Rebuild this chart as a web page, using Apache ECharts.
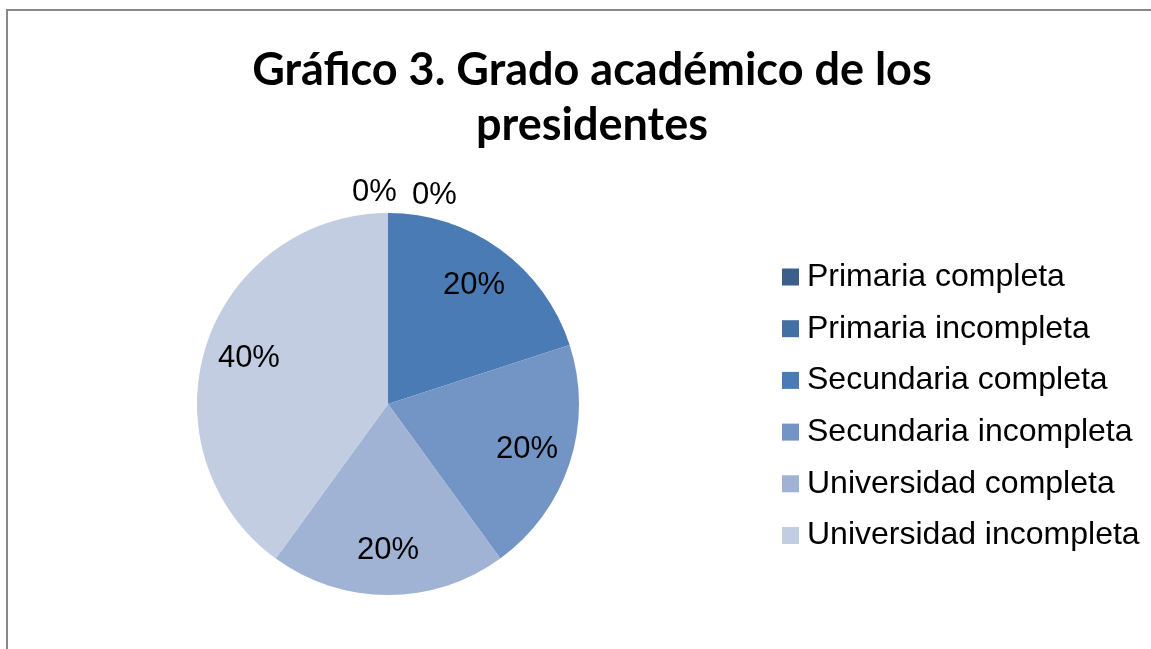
<!DOCTYPE html>
<html>
<head>
<meta charset="utf-8">
<script src="https://cdn.jsdelivr.net/npm/echarts@6/dist/echarts.min.js"></script>
<style>
  html, body { margin: 0; padding: 0; background: #fff; }
  #chart { width: 1151px; height: 649px; }
</style>
</head>
<body>
<div id="chart"></div>
<script>
// datos del gráfico
const categories = ['Primaria completa', 'Primaria incompleta', 'Secundaria completa', 'Secundaria incompleta', 'Universidad completa', 'Universidad incompleta']
const values = [0, 0, 1, 1, 1, 2]
const colors = ['#3a5f8b', '#4270a2', '#4a7bb5', '#7395c6', '#a0b3d5', '#c2cde2']

let chartDom = document.getElementById('chart')
let myChart = echarts.init(chartDom)
let option

const R = 191
const cx = 388
const pieData = categories.map((name, i) => ({ name: name, value: values[i], itemStyle: { color: colors[i] } }))
const total = values.reduce((a, b) => a + b, 0)

// anillo invisible para poner las etiquetas a 0.75 del radio, como Excel
const labelData = categories.map((name, i) => ({
  name: name,
  value: values[i],
  label: values[i] === 0
    ? { position: 'outside' }
    : { position: 'inside' }
}))

option = {
  animation: false,
  title: {
    text: 'Gráfico 3. Grado académico de los\npresidentes',
    left: 587,
    top: 38,
    textAlign: 'center',
    textStyle: {
      fontFamily: 'Lato',
      fontWeight: 'bold',
      fontSize: 45,
      lineHeight: 55,
      color: '#000'
    }
  },
  legend: {
    orient: 'vertical',
    left: 782,
    top: 261,
    padding: 0,
    icon: 'rect',
    itemWidth: 17,
    itemHeight: 17,
    itemGap: 19.7,
    selectedMode: false,
    data: categories,
    textStyle: {
      fontFamily: 'Liberation Sans',
      fontSize: 32,
      lineHeight: 32,
      color: '#000',
      padding: [0, 0, 0, 3]
    }
  },
  graphic: [
    {
      type: 'rect',
      shape: { x: 7, y: 10, width: 1200, height: 700 },
      style: { fill: 'none', stroke: '#888', lineWidth: 2 },
      silent: true
    }
  ],
  series: [
    {
      name: 'grado',
      type: 'pie',
      center: [cx, 404],
      radius: [0, R],
      startAngle: 90,
      clockwise: true,
      avoidLabelOverlap: false,
      label: { show: false },
      labelLine: { show: false },
      itemStyle: { borderWidth: 0 },
      emphasis: { disabled: true },
      data: pieData
    },
    {
      name: 'etiquetas',
      type: 'pie',
      center: [cx, 404],
      radius: [R / 2, R],
      startAngle: 90,
      clockwise: true,
      avoidLabelOverlap: false,
      silent: true,
      itemStyle: { color: 'rgba(0,0,0,0)', borderWidth: 0 },
      label: {
        show: true,
        formatter: function (p) {
          return Math.round(p.value / total * 100) + '%'
        },
        fontFamily: 'Liberation Sans',
        fontSize: 31,
        color: '#000'
      },
      labelLine: { show: false, length: 6, length2: 0 },
      labelLayout: function (p) {
        if (values[p.dataIndex] === 0) {
          let off = p.dataIndex === 0 ? -36 : 24
          return { dx: off - (p.labelRect.x - cx), dy: p.dataIndex === 0 ? -15 : -12 }
        }
        return {}
      },
      emphasis: { disabled: true },
      data: labelData
    }
  ]
}

option && myChart.setOption(option)
</script>
</body>
</html>
